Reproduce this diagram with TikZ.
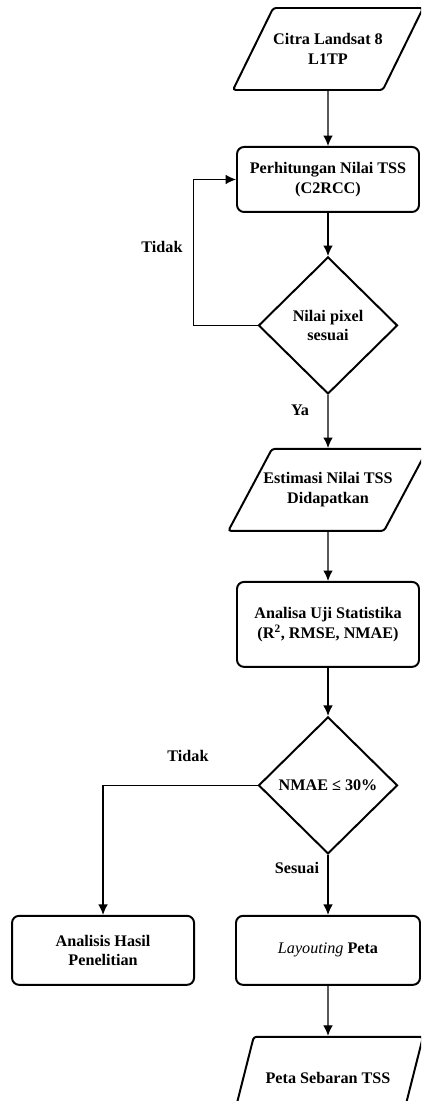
\documentclass[tikz,border=0pt]{standalone}
\usepackage{fontspec}
\setmainfont{Liberation Serif}
\usetikzlibrary{shapes.geometric}
\usetikzlibrary{arrows.meta}
\usetikzlibrary{positioning}
\newcommand{\squeezeline}[1]{\makebox[2.8cm]{#1}}
\tikzset{
	txt/.style={font=\fontsize{11.5}{14}\selectfont\bfseries},
	data/.style={txt, trapezium, trapezium left angle=45, trapezium right angle=135, trapezium stretches body=true, inner xsep=0pt, minimum width=4.75cm, minimum height=2.05cm, draw, line width=1.4pt, rounded corners=2pt, align=center},
	action/.style={txt, rectangle, draw, line width=1.4pt, rounded corners=5pt, align=center, minimum width=4.55cm},
	decision/.style={txt, diamond, draw, line width=1.4pt, inner sep=0pt, minimum width=3.475cm, minimum height=3.425cm, align=center},
	choice/.style={txt},
	arrow/.style={draw, -{Latex[length=2.6mm, width=2.4mm]}, line width=0.8pt}
}
\begin{document}
\begin{tikzpicture}[node distance=1.2cm]
\clip (0,0) rectangle (10.525,-27.525);
\node[data] (citra) at (8.2,-1.225) {Citra Landsat 8\\L1TP};

\node[action, minimum height=1.625cm, below = 1.375cm of citra] (hitung) {Perhitungan Nilai TSS\\(C2RCC)};
\node[decision, below = 1.075cm of hitung] (cekpixel) {Nilai pixel\\sesuai};

\node[data, below = 1.325cm of cekpixel] (estimasi) {\squeezeline{Estimasi Nilai TSS}\\Didapatkan};
\node[action, minimum height=2.125cm, below = 1.225cm of estimasi] (analisa) {Analisa Uji Statistika\\(R\textsuperscript{2}, RMSE, NMAE)};
\node[decision, below = 1.2cm of analisa] (ceknmae) {NMAE ≤ 30\%};

\node[action, minimum width=4.6cm, minimum height=1.725cm, below = 1.5cm of ceknmae] (layouting) {{\mdseries\itshape Layouting} Peta};
\node[action, minimum height=1.725cm, left = 1cm of layouting] (hasil) {Analisis Hasil\\Penelitian};
\node[data, below = 1.25cm of layouting] (peta) {\squeezeline{Peta Sebaran TSS}};

\node[choice] (tidaka) at (4.05,-6.175) {Tidak};
\node[choice] (ya) at (7.5,-10.25) {Ya};
\node[choice] (tidakb) at (4.7,-18.9) {Tidak};
\node[choice] (sesuai) at (7.425,-21.7) {Sesuai};

\draw [arrow] (citra) -- (hitung);
\draw [arrow] (hitung) -- (cekpixel);
\draw [arrow] (cekpixel.west) -- ++(-1.6,0) |- (hitung.west);
\draw [arrow] (cekpixel) -- (estimasi);
\draw [arrow] (estimasi) -- (analisa);
\draw [arrow] (analisa) -- (ceknmae);
\draw [arrow] (ceknmae.west) -| (hasil.north);
\draw [arrow] (ceknmae) -- (layouting);
\draw [arrow] (layouting) -- (peta);

\end{tikzpicture}
\end{document}
